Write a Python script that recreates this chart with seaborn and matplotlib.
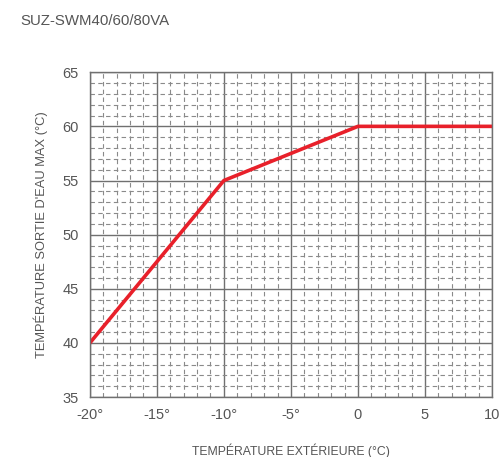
import matplotlib
matplotlib.use('Agg')
import matplotlib.pyplot as plt
import seaborn as sns
import pandas as pd
import numpy as np

# données
temp_ext = [-20, -10, 0, 10]
temp_eau_max = [40, 55, 60, 60]
x_ticks = [-20, -15, -10, -5, 0, 5, 10]
x_labels = ['-20°', '-15°', '-10°', '-5°', '0', '5', '10']
y_ticks = [35, 40, 45, 50, 55, 60, 65]

sns.set_style('white')
plt.rcParams['font.family'] = ['Liberation Sans Narrow', 'Liberation Sans', 'DejaVu Sans']

df = pd.DataFrame({'ext': temp_ext, 'eau': temp_eau_max})

fig = plt.figure(figsize=(5.02, 4.57), dpi=100)
ax = fig.add_axes([0.179, 0.131, 0.801, 0.711])

grey = '#555555'

# grille secondaire en pointillés
ax.set_xticks(np.arange(-20, 11, 1), minor=True)
ax.set_yticks(np.arange(35, 66, 1), minor=True)
ax.grid(True, which='minor', color='#8a8a8a', linestyle=(0, (4, 3)), linewidth=0.8)
ax.grid(True, which='major', color='#707070', linestyle='-', linewidth=1.0)
ax.set_axisbelow(True)

sns.lineplot(data=df, x='ext', y='eau', ax=ax, color='#e8202a', linewidth=2.6)

ax.set_xlim(-20, 10)
ax.set_ylim(35, 65)
ax.set_xticks(x_ticks)
ax.set_xticklabels(x_labels)
ax.set_yticks(y_ticks)
ax.tick_params(which='both', length=0, labelsize=10.5, labelcolor=grey, pad=8)

for s in ax.spines.values():
    s.set_color('#707070')
    s.set_linewidth(1.0)

ax.set_xlabel('TEMPÉRATURE EXTÉRIEURE (°C)', fontsize=8.8, color=grey, labelpad=15)
ax.set_ylabel("TEMPÉRATURE SORTIE D'EAU MAX (°C)", fontsize=9.3, color=grey, labelpad=10)

fig.text(0.04, 0.955, 'SUZ-SWM40/60/80VA', fontsize=10.8, color=grey, va='center', ha='left')

fig.savefig('out.png', dpi=100)
